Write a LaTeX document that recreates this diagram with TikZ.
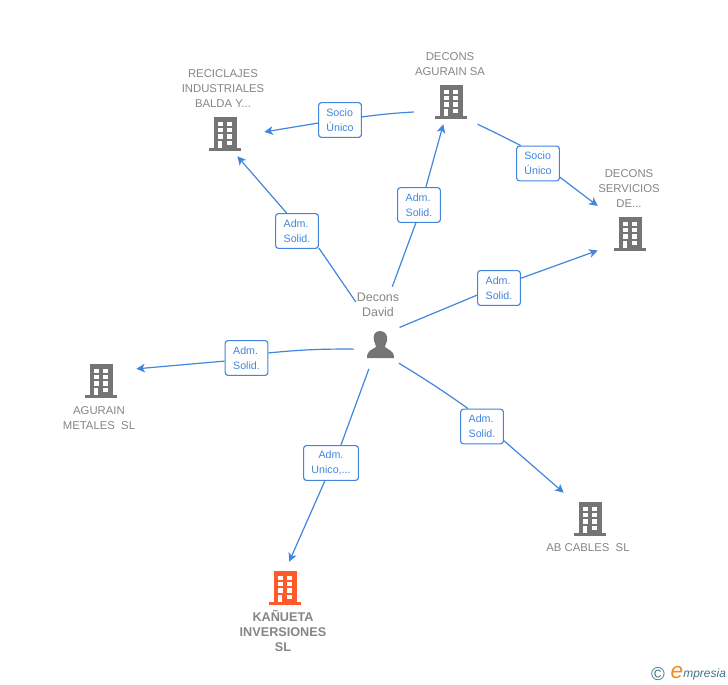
\documentclass[tikz,border=0pt]{standalone}
\usepackage{fontspec}
\setmainfont{Liberation Sans}
\usetikzlibrary{arrows, arrows.meta}
\definecolor{linkblue}{HTML}{4285DE}
\definecolor{icongray}{HTML}{757575}
\definecolor{textgray}{HTML}{858585}
\definecolor{iconorange}{HTML}{FF5A2C}
\definecolor{logoteal}{HTML}{3F7488}
\definecolor{logoorange}{HTML}{F58A1F}
\tikzset{
  link/.style={linkblue, line width=0.9pt},
  arrowlink/.style={link, -{Stealth[length=6.5pt, width=6.5pt, inset=1.8pt]}},
  rolebox/.style={draw=linkblue, line width=0.85pt, rounded corners=2pt, fill=white, text=linkblue,
    minimum width=32pt, minimum height=26pt, inner sep=0pt, align=left,
    font=\fontsize{8pt}{11.25pt}\selectfont},
  hub/.style={inner sep=0pt, draw=none},
  namelabel/.style={text=textgray, align=center, inner sep=0pt, font=\fontsize{8.5pt}{11.25pt}\selectfont},
  pics/building/.style={code={
    \fill[#1] (-11.5,-16.7) rectangle (11.5,13.7);
    \fill[#1] (-16,13.7) rectangle (16,16.7);
    \foreach \row in {-12.4,-6.3,0.2} {
      \fill[white] (-7.5,\row) rectangle (-2.5,\row+4.5);
      \fill[white] (2,\row) rectangle (7,\row+4.5);
    }
    \fill[white] (2,7) rectangle (7,11.4);
    \fill[white] (-7.5,7) rectangle (-3,13.7);
  }}
}
\begin{document}
\begin{tikzpicture}[x=0.75pt, y=-0.75pt]
  \useasboundingbox (0,0) rectangle (728,685);

  \pic at (225,134) {building=icongray};
  \pic at (451,102) {building=icongray};
  \pic at (630,234) {building=icongray};
  \pic at (101,381) {building=icongray};
  \pic at (590,519) {building=icongray};
  \pic at (285,588) {building=iconorange};

  \node[hub, minimum width=58.5pt, minimum height=33pt] (reciclajes) at (225,134) {};
  \node[hub, minimum width=55.5pt, minimum height=33pt] (agurainsa) at (451,102) {};
  \node[hub, minimum width=48pt, minimum height=45pt] (servicios) at (630,234) {};
  \node[hub, minimum width=52.5pt, minimum height=30pt] (metales) at (101,381) {};
  \node[hub, minimum width=39pt, minimum height=39pt] (abcables) at (590,519) {};
  \node[hub, minimum width=30pt, minimum height=39pt] (kanueta) at (285,588) {};

  \node[namelabel] (reciclajestext) at (223,89) {RECICLAJES\\INDUSTRIALES\\BALDA Y...};
  \node[namelabel] (agurainsatext) at (450,64) {DECONS\\AGURAIN SA};
  \node[namelabel] (serviciostext) at (629,189) {DECONS\\SERVICIOS\\DE...};
  \node[namelabel] (metalestext) at (99,418) {AGURAIN\\METALES\ \ SL};
  \node[namelabel] (abcablestext) at (588,548) {AB CABLES\ \ SL};
  \node[namelabel, font=\fontsize{9.5pt}{11.25pt}\selectfont\bfseries] (kanuetatext) at (283,631) {KAÑUETA\\INVERSIONES\\SL};

  \fill[icongray] (380,331) .. controls (374,331) and (373,336) .. (374,341)
    .. controls (375,344) and (376,345) .. (376,347)
    .. controls (372,350) and (367,350) .. (367,358) -- (394,358)
    .. controls (394,350) and (388,350) .. (385,347)
    .. controls (385,345) and (386,344) .. (387,341)
    .. controls (388,336) and (386,331) .. (380,331) -- cycle;
  \node[hub, circle, minimum size=39pt] (person) at (380,345) {};
  \node[hub, text=textgray, align=center, minimum width=33pt, minimum height=27pt,
    font=\fontsize{9.3pt}{11.25pt}\selectfont] (persontext) at (378,305) {Decons\\David};

  \node[rolebox] (role1) at (340,120) {Socio\\Único};
  \node[rolebox] (role2) at (538,163.5) {Socio\\Único};
  \node[rolebox] (role3) at (297,231) {Adm.\\Solid.};
  \node[rolebox] (role4) at (419,205) {Adm.\\Solid.};
  \node[rolebox] (role5) at (499,288) {Adm.\\Solid.};
  \node[rolebox] (role6) at (246.5,358) {Adm.\\Solid.};
  \node[rolebox, minimum width=41pt, align=center] (role7) at (331,463) {Adm.\\Unico,...};
  \node[rolebox] (role8) at (482,426.5) {Adm.\\Solid.};

  \draw[link] (agurainsa.195) to[bend right=2] (role1.8);
  \draw[arrowlink] (role1.188) to (reciclajes.3);
  \draw[link] (agurainsa.-40) to[bend left=1] (role2.134);
  \draw[arrowlink] (role2.-32) to (servicios.139);

  \draw[link] (persontext.172) to (role3.-38);
  \draw[arrowlink] (role3.120) to (reciclajes.-61);
  \draw[link] (persontext.52) to (role4.260);
  \draw[arrowlink] (role4.69) to (agurainsa.-109);
  \draw[link] (person.42) to (role5.198);
  \draw[arrowlink] (role5.24) to (servicios.207);
  \draw[link] (person.189) to[bend right=3] (role6.13);
  \draw[arrowlink] (role6.188) to (metales.19);
  \draw[link] (person.245) to (role7.61);
  \draw[arrowlink] (role7.251) to (kanueta.81);
  \draw[link] (person.-44) to[bend left=2] (role8.128);
  \draw[arrowlink] (role8.-33) to (abcables.135);

  \node[text=logoteal, inner sep=0pt, font=\fontsize{14pt}{14pt}\selectfont] (logoc) at (658,674) {©};
  \node[text=logoorange, inner sep=0pt, font=\itshape\fontsize{17pt}{17pt}\selectfont] (logoe) at (677,672.5) {e};
  \node[text=logoteal, inner sep=0pt, anchor=west, font=\itshape\fontsize{9pt}{10pt}\selectfont] (logotext) at (683,674.5) {mpresia};
\end{tikzpicture}
\end{document}
